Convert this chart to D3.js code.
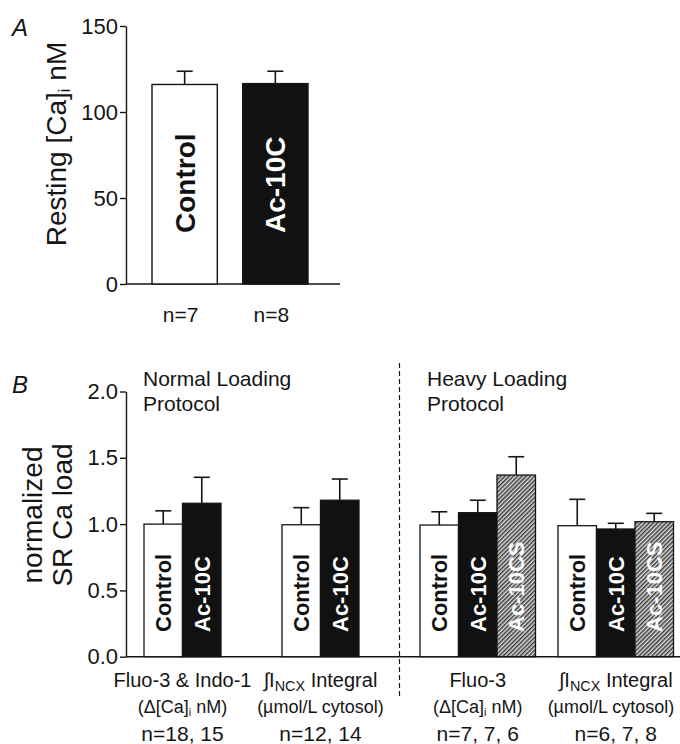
<!DOCTYPE html>
<html>
<head>
<meta charset="utf-8">
<script src="https://cdn.jsdelivr.net/npm/d3@7"></script>
<style>
  html, body { margin: 0; padding: 0; background: #fff; }
  svg { display: block; font-family: "Liberation Sans", Arial, Helvetica, sans-serif; }
</style>
</head>
<body>
<svg id="chart" width="680" height="744"></svg>
<script>
// ---------- Panel A data ----------
const catsA = ["Control", "Ac-10C"];
const restingCa = [116, 116.5];
const restingErr = [7.7, 7.2];
const nLabelsA = ["n=7", "n=8"];
const ticksA = [0, 50, 100, 150];

// ---------- Panel B data ----------
const groupsB = ["g1", "g2", "g3", "g4"];
const seriesB = ["Control", "Ac-10C", "Ac-10CS"];
const valuesB = [
  [1.00, 1.157],
  [0.995, 1.18],
  [0.993, 1.086, 1.37],
  [0.988, 0.963, 1.018]
];
const errorsB = [
  [0.10, 0.196],
  [0.129, 0.16],
  [0.10, 0.094, 0.138],
  [0.199, 0.043, 0.063]
];
const groupLine1 = ["Fluo-3 & Indo-1", "∫I_{NCX} Integral", "Fluo-3", "∫I_{NCX} Integral"];
const groupLine2 = ["(Δ[Ca]_{i} nM)", "(µmol/L cytosol)", "(Δ[Ca]_{i} nM)", "(µmol/L cytosol)"];
const nLabelsB = ["n=18, 15", "n=12, 14", "n=7, 7, 6", "n=6, 7, 8"];
const ticksB = [0, 0.5, 1.0, 1.5, 2.0];
const protocolLabels = [["Normal Loading", "Protocol"], ["Heavy Loading", "Protocol"]];

const fills = { "Control": "#ffffff", "Ac-10C": "#111111", "Ac-10CS": "url(#hatch)" };
const labelColors = { "Control": "#111111", "Ac-10C": "#ffffff", "Ac-10CS": "#ffffff" };

const svg = d3.select("#chart");
const INK = "#151515";

// hatch pattern
const defs = svg.append("defs");
const pat = defs.append("pattern").attr("id", "hatch")
  .attr("patternUnits", "userSpaceOnUse").attr("width", 3).attr("height", 3)
  .attr("patternTransform", "rotate(45)");
pat.append("rect").attr("width", 3).attr("height", 3).attr("fill", "#dcdcdc");
pat.append("rect").attr("width", 1.5).attr("height", 3).attr("fill", "#3c3c3c");

// helper: write text with _{sub} segments
function richText(sel, str, subScale) {
  const parts = str.split(/(_\{[^}]*\})/).filter(s => s.length);
  parts.forEach(p => {
    if (p.startsWith("_{")) {
      sel.append("tspan").text(p.slice(2, -1))
        .attr("font-size", (subScale || 0.7) + "em")
        .attr("baseline-shift", "-25%");
    } else {
      sel.append("tspan").text(p);
    }
  });
}

// ================= PANEL A =================
const xA = d3.scaleBand().domain(catsA).range([152, 308]).paddingInner(0.28).paddingOuter(0);
const yA = d3.scaleLinear().domain([0, 150]).range([284, 26]);

const axA = svg.append("g").attr("transform", "translate(126,0)")
  .call(d3.axisLeft(yA).tickValues(ticksA).tickSize(6).tickSizeOuter(0).tickPadding(2));
axA.selectAll("path,line").attr("stroke", INK).attr("stroke-width", 1.4);
axA.selectAll("text").attr("font-size", 22).attr("fill", INK).attr("font-family", "Liberation Sans, Arial, sans-serif");

svg.append("line").attr("x1", 126).attr("x2", 340).attr("y1", yA(0)).attr("y2", yA(0))
  .attr("stroke", INK).attr("stroke-width", 1.4);

const barsA = svg.append("g");
catsA.forEach((c, i) => {
  const x = xA(c), w = xA.bandwidth(), cx = x + w / 2;
  barsA.append("line").attr("x1", cx).attr("x2", cx)
    .attr("y1", yA(restingCa[i])).attr("y2", yA(restingCa[i] + restingErr[i]))
    .attr("stroke", INK).attr("stroke-width", 1.6);
  barsA.append("line").attr("x1", cx - 8).attr("x2", cx + 8)
    .attr("y1", yA(restingCa[i] + restingErr[i])).attr("y2", yA(restingCa[i] + restingErr[i]))
    .attr("stroke", INK).attr("stroke-width", 1.6);
  barsA.append("rect").attr("x", x).attr("y", yA(restingCa[i]))
    .attr("width", w).attr("height", yA(0) - yA(restingCa[i]))
    .attr("fill", fills[c]).attr("stroke", INK).attr("stroke-width", 1.4);
  const fs = 28;
  barsA.append("text").text(c)
    .attr("transform", `translate(${cx + fs * 0.36},${233}) rotate(-90)`)
    .attr("font-size", fs).attr("font-weight", "bold").attr("fill", labelColors[c]);
  svg.append("text").text(nLabelsA[i]).attr("x", cx - 4).attr("y", 322)
    .attr("text-anchor", "middle").attr("font-size", 21).attr("fill", INK);
});

// Y label A
const ylA = svg.append("text").attr("transform", "translate(66,144) rotate(-90)")
  .attr("text-anchor", "middle").attr("font-size", 28).attr("fill", INK);
richText(ylA, "Resting [Ca]_{i} nM", 0.6);

svg.append("text").text("A").attr("x", 12).attr("y", 36)
  .attr("font-size", 24).attr("font-style", "italic").attr("fill", INK);

// ================= PANEL B =================
const x0 = d3.scaleBand().domain(groupsB).range([144, 696]).padding(0);
const x1 = d3.scaleBand().domain(seriesB).range([0, 115.5]).padding(0);
const yB = d3.scaleLinear().domain([0, 2]).range([656.7, 391.5]);

const axB = svg.append("g").attr("transform", "translate(126,0)")
  .call(d3.axisLeft(yB).tickValues(ticksB).tickFormat(d3.format(".1f")).tickSize(6).tickSizeOuter(0).tickPadding(2));
axB.selectAll("path,line").attr("stroke", INK).attr("stroke-width", 1.4);
axB.selectAll("text").attr("font-size", 22).attr("fill", INK).attr("font-family", "Liberation Sans, Arial, sans-serif");

svg.append("line").attr("x1", 126).attr("x2", 680).attr("y1", yB(0)).attr("y2", yB(0))
  .attr("stroke", INK).attr("stroke-width", 1.4);

// dashed divider
svg.append("line").attr("x1", 399.5).attr("x2", 399.5).attr("y1", 363).attr("y2", 698)
  .attr("stroke", INK).attr("stroke-width", 1.2).attr("stroke-dasharray", "5,3");

const barsB = svg.append("g");
groupsB.forEach((g, gi) => {
  const vals = valuesB[gi];
  vals.forEach((v, si) => {
    const s = seriesB[si];
    const x = x0(g) + x1(s), w = x1.bandwidth(), cx = x + w / 2;
    const top = v + errorsB[gi][si];
    barsB.append("line").attr("x1", cx).attr("x2", cx).attr("y1", yB(v)).attr("y2", yB(top))
      .attr("stroke", INK).attr("stroke-width", 1.6);
    barsB.append("line").attr("x1", cx - 8).attr("x2", cx + 8).attr("y1", yB(top)).attr("y2", yB(top))
      .attr("stroke", INK).attr("stroke-width", 1.6);
    barsB.append("rect").attr("x", x).attr("y", yB(v)).attr("width", w).attr("height", yB(0) - yB(v))
      .attr("fill", fills[s]).attr("stroke", INK).attr("stroke-width", 1.3);
    const fs = 22;
    barsB.append("text").text(s)
      .attr("transform", `translate(${cx + fs * 0.36},${632}) rotate(-90)`)
      .attr("font-size", fs).attr("font-weight", "bold").attr("fill", labelColors[s]);
  });
  const gc = x0(g) + vals.length * x1.bandwidth() / 2;
  const t1 = svg.append("text").attr("x", gc).attr("y", 687).attr("text-anchor", "middle")
    .attr("font-size", 20).attr("fill", INK);
  richText(t1, groupLine1[gi], 0.72);
  const t2 = svg.append("text").attr("x", Math.min(gc, 611)).attr("y", 713).attr("text-anchor", "middle")
    .attr("font-size", 18).attr("fill", INK);
  richText(t2, groupLine2[gi], 0.6);
  svg.append("text").text(nLabelsB[gi]).attr("x", gc).attr("y", 741).attr("text-anchor", "middle")
    .attr("font-size", 21).attr("fill", INK);
});

// protocol labels
[143, 427].forEach((px, i) => {
  protocolLabels[i].forEach((line, li) => {
    svg.append("text").text(line).attr("x", px).attr("y", 386 + li * 25)
      .attr("font-size", 21).attr("fill", INK);
  });
});

// Y label B
const ylB = svg.append("text").attr("transform", "translate(0,515) rotate(-90)")
  .attr("text-anchor", "middle").attr("font-size", 28).attr("fill", INK);
ylB.append("tspan").attr("x", 0).attr("y", 42).text("normalized");
ylB.append("tspan").attr("x", 0).attr("y", 72).text("SR Ca load");

svg.append("text").text("B").attr("x", 12).attr("y", 393)
  .attr("font-size", 24).attr("font-style", "italic").attr("fill", INK);
</script>
</body>
</html>
